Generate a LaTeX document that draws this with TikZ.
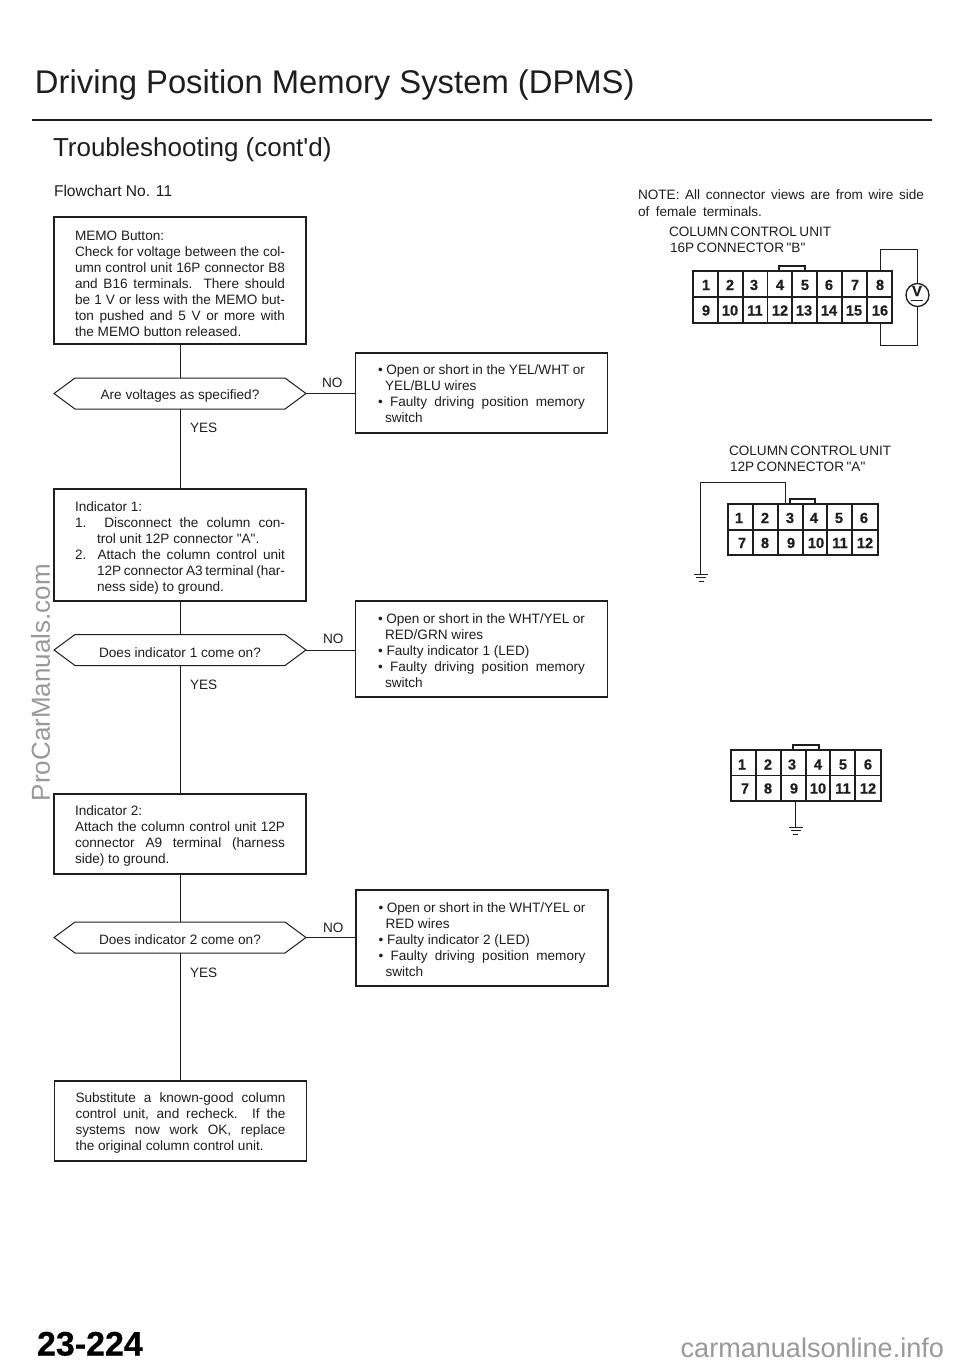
\documentclass[tikz,border=0pt]{standalone}
\usepackage{fontspec}
\setmainfont{Liberation Sans}[Ligatures=TeXOff]
\newfontfamily\heavy{Liberation Sans Bold}[Ligatures=TeXOff,FakeBold=0.4]
\usetikzlibrary{calc}
\newdimen\px \px=.75pt
\definecolor{ink}{HTML}{1E1E1E}
\definecolor{wm}{HTML}{999999}
\def\tw{210\px}
\newcommand\jl[1]{\hbox to \tw{#1}}
\newcommand\rl[1]{\hbox to \tw{#1\hfil}}
\newcommand\ji[2]{\hbox to \tw{\hskip#1\px #2}}
\newcommand\ri[2]{\hbox to \tw{\hskip#1\px #2\hfil}}
\newcommand\bt[2]{\vbox{\baselineskip=16\px\lineskiplimit=-20pt\kern#1\px #2}}
\tikzset{
 x=.75pt,y=-.75pt,
 every node/.style={text=ink,inner sep=0pt,outer sep=0pt},
 flowbox/.style={draw=ink,line width=.8pt,minimum width=252\px,font=\fontsize{10.2pt}{12pt}\selectfont},
 flowbg/.style={minimum width=252\px,minimum height=31\px,font=\fontsize{10.2pt}{12pt}\selectfont},
 hexline/.style={draw=ink,line width=.75pt,line join=miter},
 link/.style={draw=ink,line width=.75pt},
 lab/.style={font=\fontsize{10.2pt}{12pt}\selectfont,anchor=west},
 conline/.style={draw=ink,line width=1.4pt},
 wire/.style={draw=ink,line width=.75pt},
 num/.style={anchor=base,font=\heavy\fontsize{11pt}{12pt}\selectfont},
 smalltext/.style={anchor=base west,font=\fontsize{10.2pt}{12pt}\selectfont},
}
\newcommand\hexn[4]{%
 \node[flowbg] (#1) at (#2,#3) {\vbox{\kern5\px\hbox{#4}}};
 \draw[hexline] (#1.west) -- ($(#1.north west)+(21,0)$) -- ($(#1.north east)+(-21,0)$) -- (#1.east) -- ($(#1.south east)+(-21,0)$) -- ($(#1.south west)+(21,0)$) -- cycle;
}
\newcommand\gnd[2]{%
 \draw[wire] (#1-7,#2) -- (#1+7,#2);
 \draw[wire] (#1-5,#2+3.5) -- (#1+5,#2+3.5);
 \draw[wire] (#1-2.5,#2+7) -- (#1+2.5,#2+7);
}
\begin{document}
\begin{tikzpicture}
\useasboundingbox (0,0) rectangle (960,1365);
\fill[white] (0,0) rectangle (960,1365);
% headings
\node[anchor=base west,font=\fontsize{24.6pt}{30pt}\selectfont] (title) at (35,93.5) {Driving Position Memory System (DPMS)};
\draw[ink,line width=1.3pt] (32,120) -- (932,120);
\node[anchor=base west,font=\fontsize{19.5pt}{24pt}\selectfont] (sub) at (53,156) {Troubleshooting (cont'd)};
\node[anchor=base west,font=\fontsize{11.7pt}{12pt}\selectfont] (fc) at (54,196) {Flowchart No. 11};
% left column
\node[flowbox,minimum height=127\px] (b1) at (180,280.5) {\bt{6}{%
 \rl{MEMO Button:}
 \jl{Check for voltage between the col-}
 \jl{umn control unit 16P connector B8}
 \jl{and B16 terminals. There should}
 \jl{be 1 V or less with the MEMO but-}
 \jl{ton pushed and 5 V or more with}
 \rl{the MEMO button released.}}};
\hexn{h1}{180}{393.5}{Are voltages as specified?}
\node[flowbox,minimum height=112\px] (b3) at (180,545) {\bt{6}{%
 \rl{Indicator 1:}
 \jl{1. Disconnect the column con-}
 \ri{22}{trol unit 12P connector "A".}
 \jl{2. Attach the column control unit}
 \ji{22}{12P connector A3 terminal (har-}
 \ri{22}{ness side) to ground.}}};
\hexn{h2}{180}{650}{Does indicator 1 come on?}
\node[flowbox,minimum height=80\px] (b5) at (180,834) {\bt{4}{%
 \rl{Indicator 2:}
 \jl{Attach the column control unit 12P}
 \jl{connector A9 terminal (harness}
 \rl{side) to ground.}}};
\hexn{h3}{180}{937.5}{Does indicator 2 come on?}
\node[flowbox,minimum height=80\px] (b7) at (180.5,1121) {\bt{4}{%
 \jl{Substitute a known-good column}
 \jl{control unit, and recheck. If the}
 \jl{systems now work OK, replace}
 \rl{the original column control unit.}}};
% right column
\def\tw{207\px}
\node[flowbox,minimum height=80\px] (n1) at (481.5,393) {\bt{2}{%
 \jl{• Open or short in the YEL/WHT or}
 \ri{7}{YEL/BLU wires}
 \jl{• Faulty driving position memory}
 \ri{7}{switch}}};
\node[flowbox,minimum height=96\px] (n2) at (481.5,649) {\bt{4}{%
 \jl{• Open or short in the WHT/YEL or}
 \ri{7}{RED/GRN wires}
 \rl{• Faulty indicator 1 (LED)}
 \jl{• Faulty driving position memory}
 \ri{7}{switch}}};
\node[flowbox,minimum height=96\px] (n3) at (482,938) {\bt{4}{%
 \jl{• Open or short in the WHT/YEL or}
 \ri{7}{RED wires}
 \rl{• Faulty indicator 2 (LED)}
 \jl{• Faulty driving position memory}
 \ri{7}{switch}}};
% connectors
\draw[link] (b1) -- (h1);
\draw[link] (h1) -- (b3);
\draw[link] (b3) -- (h2);
\draw[link] (h2) -- (b5);
\draw[link] (b5) -- (h3);
\draw[link] (h3.south) -- (h3.south |- b7.north);
\draw[link] (h1.east) -- (h1.east -| n1.west);
\draw[link] (h2.east) -- (h2.east -| n2.west);
\draw[link] (h3.east) -- (h3.east -| n3.west);
% flow labels
\node[lab] (no1) at (322,383) {NO};
\node[lab] (no2) at (323,639) {NO};
\node[lab] (no3) at (323,928) {NO};
\node[lab] (y1) at (190,428) {YES};
\node[lab] (y2) at (190,685) {YES};
\node[lab] (y3) at (190,973) {YES};
% right notes
\node[smalltext] (note1) at (638,199) {\hbox to 286\px{NOTE: All connector views are from wire side}};
\node[smalltext] (note2) at (638,216) {\hbox to 124\px{of female terminals.}};
\node[smalltext] (c1a) at (669,236) {\hbox to 162\px{COLUMN CONTROL UNIT}};
\node[smalltext] (c1b) at (670,252) {\hbox to 134\px{16P CONNECTOR "B"}};
\node[smalltext] (c2a) at (729,455) {\hbox to 161\px{COLUMN CONTROL UNIT}};
\node[smalltext] (c2b) at (730,471) {\hbox to 134\px{12P CONNECTOR "A"}};
% 16P connector
\draw[conline] (693,271) rectangle (892,323);
\draw[conline] (693,297) -- (892,297);
\foreach \xx in {718,743,767.5,792,817,842,867} \draw[conline] (\xx,271) -- (\xx,323);
\draw[wire,line width=1pt] (779,271) |- (805,266) -- (805,271);
\foreach \n/\xx in {1/706,2/730,3/754,4/780,5/805,6/829,7/855,8/880}
  \node[num] at (\xx,290) {\n};
\foreach \n/\xx in {9/706,10/730,11/755,12/780,13/804,14/829,15/854,16/880}
  \node[num] at (\xx,315.5) {\n};
\node[circle,draw=ink,line width=1pt,minimum size=23\px] (vm) at (917.5,295) {};
\node[font=\heavy\fontsize{11pt}{12pt}\selectfont] (vt) at (917,291) {V};
\draw[ink,line width=1pt] (911,300.5) -- (923,300.5);
\draw[wire] (880,271) -- (880,249) -| (vm.north);
\draw[wire] (880,323) -- (880,345) -| (vm.south);
% 12P connector A
\draw[conline] (728,504) rectangle (878,555);
\draw[conline] (728,530) -- (878,530);
\foreach \xx in {753,778,803,827,852} \draw[conline] (\xx,504) -- (\xx,555);
\draw[wire,line width=1pt] (790,504) |- (815,499) -- (815,504);
\foreach \n/\xx in {1/739,2/765,3/790,4/814,5/839,6/864}
  \node[num] at (\xx,523) {\n};
\foreach \n/\xx in {7/742,8/765,9/791,10/816,11/840,12/865}
  \node[num] at (\xx,548) {\n};
\draw[wire] (785,504) -- (785,482) -- (700,482) -- (700,574);
\gnd{701}{574}
% 12P connector bottom
\draw[conline] (731,750) rectangle (881,801);
\draw[conline] (731,775.5) -- (881,775.5);
\foreach \xx in {756,781,806,830,855} \draw[conline] (\xx,750) -- (\xx,801);
\draw[wire,line width=1pt] (793,750) |- (819,745) -- (819,750);
\foreach \n/\xx in {1/742,2/768,3/792,4/818,5/843,6/868}
  \node[num] at (\xx,769.5) {\n};
\foreach \n/\xx in {7/745,8/768,9/794,10/818,11/843,12/868}
  \node[num] at (\xx,793.5) {\n};
\draw[wire] (795,801) -- (795,827);
\gnd{795.5}{827}
% footer
\node[anchor=base west,font=\heavy\fontsize{25.5pt}{30pt}\selectfont,text=black] (pg) at (37,1355.5) {23-224};
\node[anchor=base east,font=\fontsize{20.3pt}{24pt}\selectfont,text=wm] (cm) at (944,1357) {carmanualsonline.info};
\node[anchor=base west,rotate=90,font=\fontsize{19.5pt}{24pt}\selectfont,text=wm] (pm) at (50,801) {ProCarManuals.com};
\end{tikzpicture}
\end{document}
